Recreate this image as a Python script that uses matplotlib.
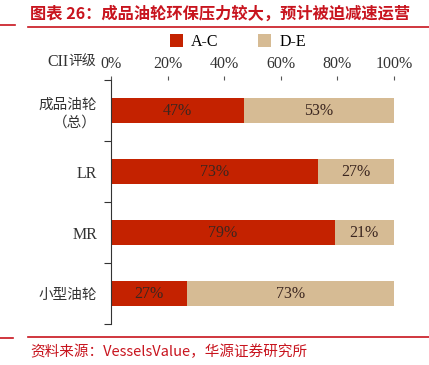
import matplotlib.pyplot as plt
from matplotlib.lines import Line2D

plt.rcParams['font.family'] = ['Noto Sans CJK SC', 'DejaVu Sans']

categories = ['成品油轮\n（总）', 'LR', 'MR', '小型油轮']
ac_share = [47, 73, 79, 27]
de_share = [53, 27, 21, 73]
x_ticks = [0, 20, 40, 60, 80, 100]

red = '#C42200'
beige = '#D6BB94'
title_red = '#C8141E'
serif = 'Liberation Serif'

fig = plt.figure(figsize=(4.29, 3.65), dpi=100)
ax = fig.add_axes([0.2587, 0.1123, 0.6597, 0.6685])

ypos = range(len(categories))
ax.barh(ypos, ac_share, height=0.4, color=red, label='A-C')
ax.barh(ypos, de_share, left=ac_share, height=0.4, color=beige, label='D-E')

for i, (a, d) in enumerate(zip(ac_share, de_share)):
    ax.text(a / 2, i, f'{a}%', ha='center', va='center', fontsize=11.5,
            family=serif, color='#3b2620')
    ax.text(a + d / 2, i, f'{d}%', ha='center', va='center', fontsize=11.5,
            family=serif, color='#3b2620')

ax.set_xlim(0, 100)
ax.set_ylim(3.5, -0.5)
ax.xaxis.tick_top()
ax.set_xticks(x_ticks)
ax.set_xticklabels([f'{t}%' for t in x_ticks], family=serif,
                   fontsize=11.5, color='#333333')
ax.tick_params(axis='x', length=3, color='#555555', pad=3)
ax.set_yticks([y + 0.5 for y in range(-1, len(categories))], minor=False)
ax.set_yticklabels([])
ax.tick_params(axis='y', which='major', length=5, color='#333333')
ax.set_yticks(list(ypos), minor=True)
ax.set_yticklabels(categories, minor=True, fontsize=10.5, color='#333333',
                   linespacing=1.3)
ax.tick_params(axis='y', which='minor', length=0, pad=10)
for lbl, fam in zip(ax.get_yticklabels(minor=True), [None, serif, serif, None]):
    if fam:
        lbl.set_family(fam)
        lbl.set_fontsize(11.5)
for s in ['top', 'right', 'bottom']:
    ax.spines[s].set_visible(False)
ax.spines['left'].set_color('#333333')

fig.text(0.16, 0.830, 'CII', ha='right', va='center', fontsize=11.5,
         family=serif, color='#333333')
fig.text(0.16, 0.830, '评级', ha='left', va='center', fontsize=10,
         color='#333333')

fig.legend(loc='center', bbox_to_anchor=(0.555, 0.885), ncol=2, frameon=False,
           handlelength=0.8, handleheight=0.8, columnspacing=2.5,
           handletextpad=0.5, prop={'family': serif, 'size': 11.5})

fig.text(0.07, 0.962, '图表 26：成品油轮环保压力较大，预计被迫减速运营', fontsize=11.7,
         color=title_red, fontweight='bold', va='center')
fig.add_artist(Line2D([0.065, 1.0], [0.926, 0.926], color=title_red, lw=1.2))
fig.add_artist(Line2D([0.0, 0.035], [0.931, 0.931], color=title_red, lw=1.2))
fig.add_artist(Line2D([0.065, 1.0], [0.077, 0.077], color=title_red, lw=1.2))
fig.add_artist(Line2D([0.0, 0.03], [0.074, 0.074], color=title_red, lw=1.2))
fig.text(0.07, 0.036, '资料来源：VesselsValue，华源证券研究所', fontsize=10.5,
         color=title_red, va='center')

fig.savefig('out.png', dpi=100)
